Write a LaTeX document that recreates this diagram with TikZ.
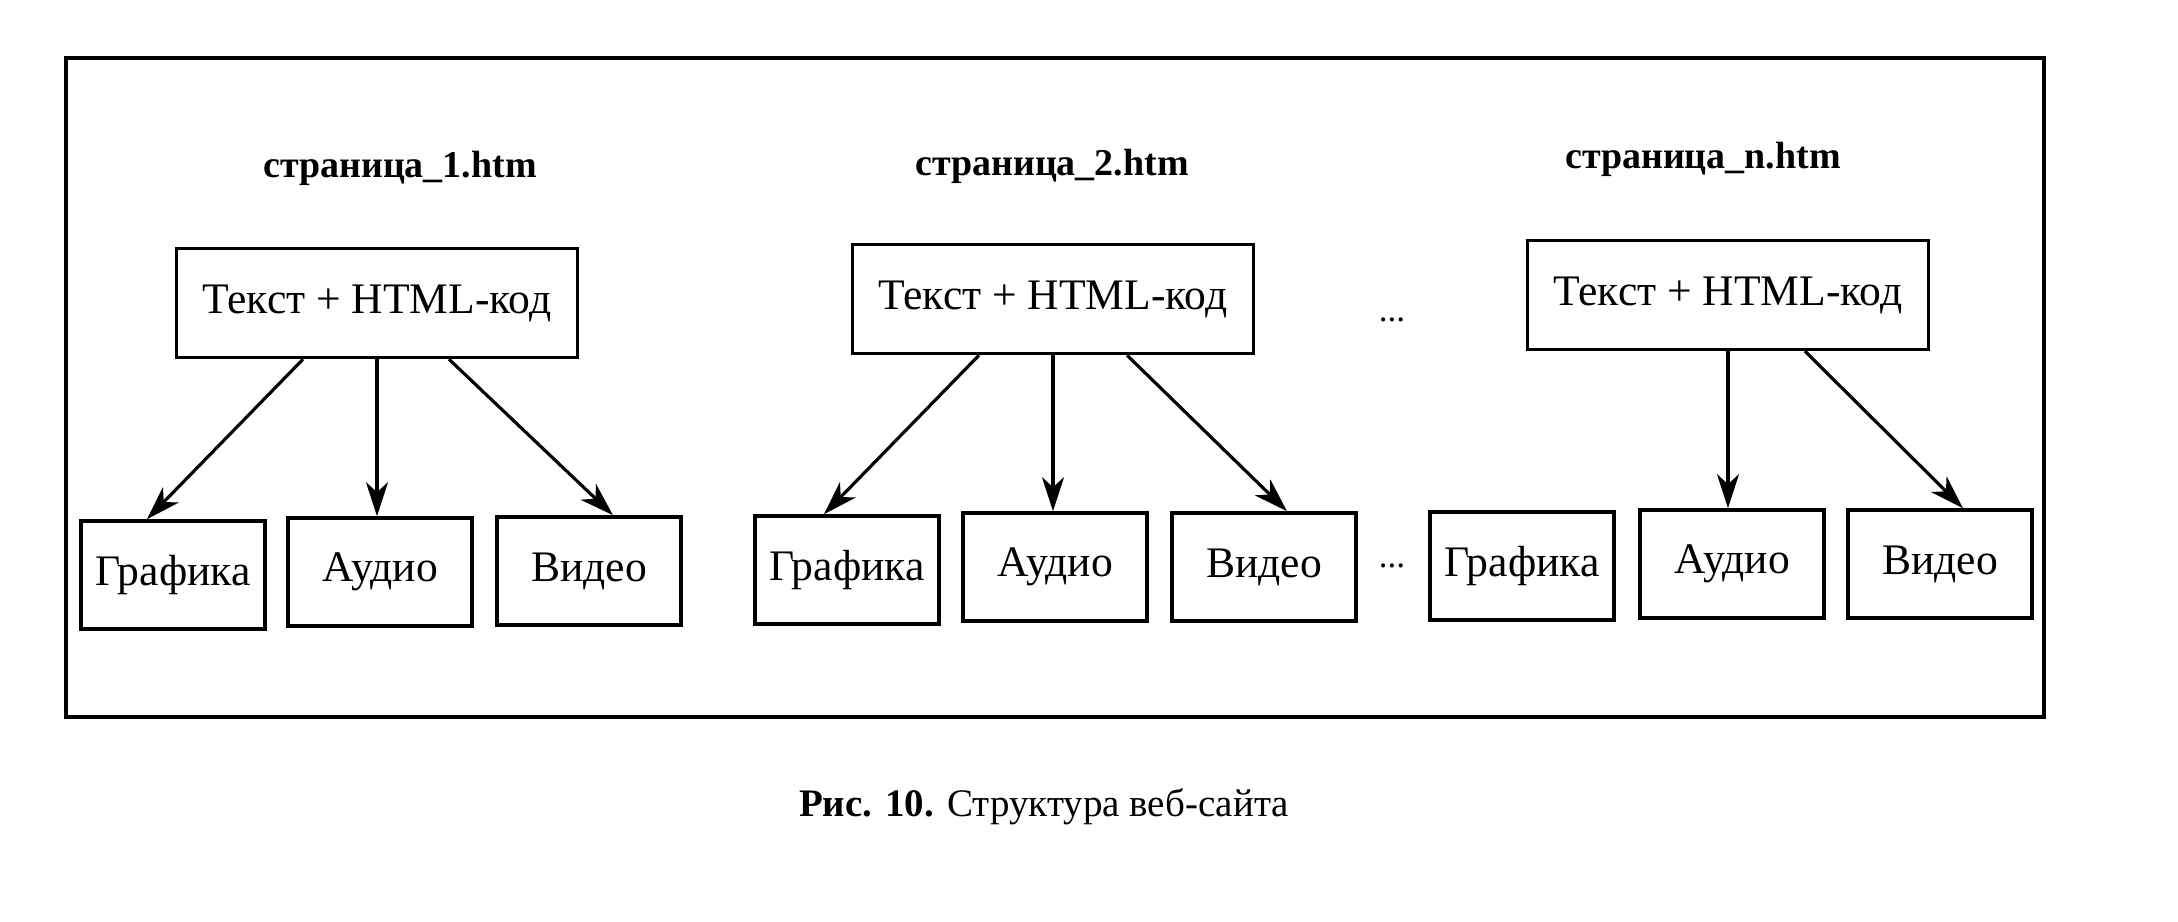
\documentclass[tikz,border=0pt]{standalone}
\usepackage{fontspec}
\setmainfont{Liberation Serif}
\usetikzlibrary{arrows.meta}
\begin{document}
\begin{tikzpicture}
        \tikzstyle{page}=[draw=black,line width=1pt,minimum width=4.01cm,minimum height=1.09cm,inner sep=0pt,font=\fontsize{12.4}{14}\selectfont]
        \tikzstyle{media}=[draw=black,line width=1pt,minimum width=1.84cm,minimum height=1.08cm,inner sep=0pt,font=\fontsize{12.4}{14}\selectfont]
        \tikzstyle{title}=[font=\fontsize{10.8}{13}\selectfont\bfseries]
        \tikzstyle{link}=[line width=0.9pt,-{Stealth[length=0.34cm,width=0.22cm,inset=0.1cm]}]
       \useasboundingbox (0,0) rectangle (21.78,9.22);
       \draw[line width=1.1pt] (0.66,8.64) rectangle (20.44,2.05);
       % page 1
       \begin{scope}
         \node [title] (t1) at (4.00,7.54) {страница\_1.htm};
         \node [page] (m1) at (3.77,6.19) {Текст + HTML-код};
         \node [media] (g1) at (1.73,3.47) {Графика};
         \node [media] (a1) at (3.80,3.50) {Аудио};
         \node [media] (v1) at (5.89,3.51) {Видео};
         \draw[link] ([xshift=-0.74cm]m1.south) -- ([xshift=-0.26cm]g1.north);
         \draw[link] (m1.south) -- (m1.south |- a1.north);
         \draw[link] ([xshift=0.72cm]m1.south) -- ([xshift=0.24cm]v1.north);
        \end{scope}
       % page 2
       \begin{scope}
         \node [title] (t2) at (10.52,7.56) {страница\_2.htm};
         \node [page] (m2) at (10.53,6.23) {Текст + HTML-код};
         \node [media] (g2) at (8.47,3.52) {Графика};
         \node [media] (a2) at (10.55,3.55) {Аудио};
         \node [media] (v2) at (12.64,3.55) {Видео};
         \draw[link] ([xshift=-0.74cm]m2.south) -- ([xshift=-0.23cm]g2.north);
         \draw[link] (m2.south) -- (m2.south |- a2.north);
         \draw[link] ([xshift=0.74cm]m2.south) -- ([xshift=0.23cm]v2.north);
        \end{scope}
       \node (d1) at (13.92,6.02) {...};
       \node (d2) at (13.92,3.56) {...};
       % page n
       \begin{scope}
         \node [title] (tn) at (17.03,7.63) {страница\_n.htm};
         \node [page] (mn) at (17.28,6.27) {Текст + HTML-код};
         \node [media] (gn) at (15.22,3.56) {Графика};
         \node [media] (an) at (17.32,3.58) {Аудио};
         \node [media] (vn) at (19.40,3.58) {Видео};
         \draw[link] (mn.south) -- (mn.south |- an.north);
         \draw[link] ([xshift=0.77cm]mn.south) -- ([xshift=0.23cm]vn.north);
        \end{scope}
       \node [font=\fontsize{11.1}{13}\selectfont] (cap) at (10.44,1.15) {\textbf{Рис. 10.} Структура веб-сайта};
      \end{tikzpicture}
\end{document}
